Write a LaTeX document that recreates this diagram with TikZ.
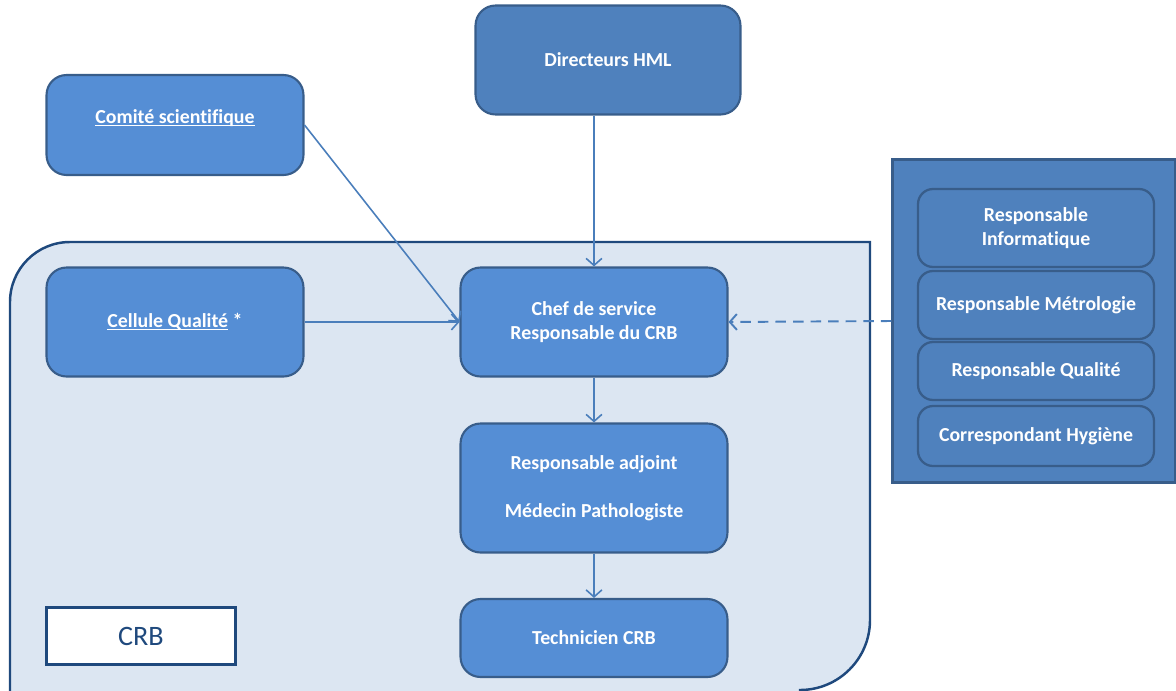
\documentclass[tikz,border=0pt]{standalone}
\usepackage{fontspec}
\setmainfont[Ligatures=NoCommon]{Carlito}
\usetikzlibrary{positioning, arrows.meta, calc}
\definecolor{crbblue}{RGB}{79,129,189}
\definecolor{crblight}{RGB}{85,142,213}
\definecolor{crbedge}{RGB}{56,93,138}
\definecolor{crbdark}{RGB}{31,73,125}
\definecolor{crbzone}{RGB}{220,230,242}
\definecolor{crbarrow}{RGB}{74,126,187}
\newcommand{\uln}[1]{\underline{\smash{#1}}}
\tikzset{
    unit/.style={rectangle, rounded corners=0.4cm, draw=crbedge, fill=crblight, line width=1.2pt, align=center, text=white, font=\fontsize{11.3}{13.8}\selectfont\bfseries},
    subunit/.style={rectangle, rounded corners=0.3cm, draw=crbedge, fill=crbblue, line width=1.3pt, minimum width=4.72cm, align=center, text=white, font=\fontsize{11.3}{13.8}\selectfont\bfseries},
    panel/.style={rectangle, draw=crbedge, fill=crbblue, line width=1.3pt},
    crblabel/.style={rectangle, draw=crbdark, fill=white, line width=1.8pt, minimum width=3.78cm, minimum height=1.14cm, text=crbdark, font=\fontsize{16}{19}\selectfont}
}

\begin{document}
\begin{tikzpicture}[x=0.02cm, y=-0.02cm,
      arr/.style={-{Straight Barb[length=4pt, width=9pt]}, line width=0.9pt, crbarrow},
      arrdash/.style={arr, line width=1.1pt, dash pattern=on 6pt off 4pt}
    ]
    \useasboundingbox (0,0) rectangle (1176,690);
    % CRB zone
    \draw[fill=crbzone, draw=crbdark, line width=1.4pt] (10,700) -- (10,302) arc(180:270:60) -- (870,242) -- (870,620) arc(0:90:70) -- (800,700) -- cycle;
    \node[unit, fill=crbblue, minimum width=5.3cm, minimum height=2.18cm] (dir) at (608,60) {Directeurs HML};
    \node[unit, minimum width=5.14cm, minimum height=2cm] (comite) at (175,125) {\uln{Comité scientifique}};
    \node[unit, minimum width=5.14cm, minimum height=2.18cm] (qualite) at (175,322) {\uln{Cellule Qualité} *};
    \node[unit, minimum width=5.34cm, minimum height=2.18cm] (chef) at (594,322) {Chef de service\\Responsable du CRB};
    \node[unit, minimum width=5.34cm, minimum height=2.58cm] (adjoint) at (594,488) {Responsable adjoint\\[13.8pt]Médecin Pathologiste};
    \node[unit, minimum width=5.34cm, minimum height=1.56cm] (tech) at (594,638) {Technicien CRB};
    \node[crblabel] (crb) at (141,636) {CRB};
    % responsables
    \node[panel, minimum width=5.66cm, minimum height=6.46cm] (resp) at (1034,321) {};
    \node[subunit, minimum height=1.56cm] (info) at (1036,228) {Responsable\\Informatique};
    \node[subunit, minimum height=1.36cm] (metro) at (1036,305) {Responsable Métrologie};
    \node[subunit, minimum height=1.16cm] (rqual) at (1036,371) {Responsable Qualité};
    \node[subunit, minimum height=1.2cm] (hyg) at (1036,436) {Correspondant Hygiène};
    \draw[arr] (dir.south -| chef.north) -- (chef.north);
    \draw[arr] (comite.east) -- (chef.west);
    \draw[arr] (qualite.east) -- (chef.west);
    \draw[arr] (chef.south) -- (adjoint.north);
    \draw[arr] (adjoint.south) -- (tech.north);
    \draw[arrdash] (resp.west) -- (chef.east);
\end{tikzpicture}
\end{document}
